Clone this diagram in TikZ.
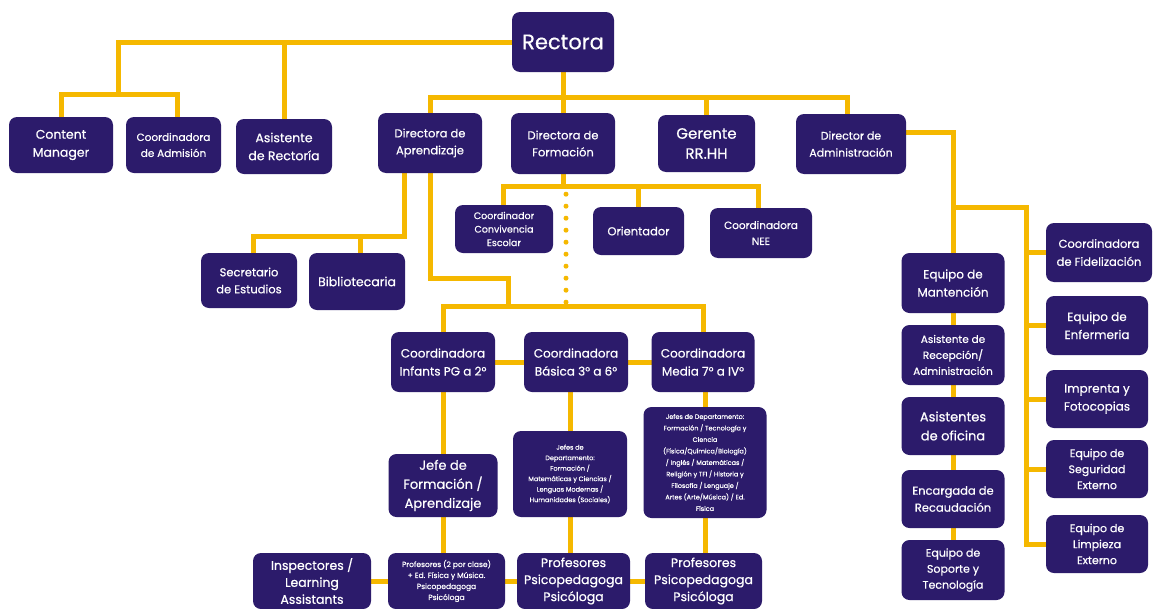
\documentclass[tikz,border=0pt]{standalone}
\usepackage{fontspec}
\setmainfont{Poppins}[FakeBold=0.5]
\usetikzlibrary{backgrounds}
\definecolor{boxc}{RGB}{44,27,107}
\definecolor{linec}{RGB}{245,184,0}
\newcommand{\fsz}[2]{\fontsize{#1}{#2}\selectfont}
\begin{document}
\begin{tikzpicture}[x=1pt,y=-1pt,
  box/.style={fill=boxc, rounded corners=8pt, text=white, align=center, inner sep=1pt},
  link/.style={draw=linec, line width=5pt},
  dotlink/.style={draw=linec, line width=5pt, line cap=round, dash pattern=on 0pt off 12pt}]
\clip (0,0) rectangle (1154,608);
% top level
\node[box, minimum width=102pt, minimum height=60pt, font=\fsz{21}{25}] (rect) at (563,42) {Rectora};
\node[box, minimum width=104pt, minimum height=56pt, font=\fsz{12.5}{18}] (cm) at (61,145) {Content\\Manager};
\node[box, minimum width=95pt, minimum height=56pt, font=\fsz{10.5}{16}] (adm) at (173.5,145) {Coordinadora\\de Admisión};
\node[box, minimum width=96pt, minimum height=55pt, font=\fsz{12.5}{18}] (asr) at (284,146.5) {Asistente\\de Rectoría};
\node[box, minimum width=104pt, minimum height=60pt, font=\fsz{11.5}{17}] (dap) at (430,143) {Directora de\\Aprendizaje};
\node[box, minimum width=104pt, minimum height=61pt, font=\fsz{11.5}{17}] (dfo) at (563,143.5) {Directora de\\Formación};
\node[box, minimum width=97pt, minimum height=57pt, font=\fsz{15}{20}] (ger) at (706.5,143.5) {Gerente\\RR.HH};
\node[box, minimum width=110pt, minimum height=60pt, font=\fsz{11}{17}] (dad) at (851,144) {Director de\\Administración};
% formacion children
\node[box, minimum width=98pt, minimum height=48pt, font=\fsz{9.5}{13.5}] (conv) at (504,229) {Coordinador\\Convivencia\\Escolar};
\node[box, minimum width=91pt, minimum height=48pt, font=\fsz{11.5}{16}] (ori) at (638.5,231) {Orientador};
\node[box, minimum width=102pt, minimum height=50pt, font=\fsz{10.5}{16}] (nee) at (761,233) {Coordinadora\\NEE};
% aprendizaje children
\node[box, minimum width=96pt, minimum height=55pt, font=\fsz{11.5}{17}] (secr) at (249,280.5) {Secretario\\de Estudios};
\node[box, minimum width=96pt, minimum height=57pt, font=\fsz{12.5}{17}] (bib) at (357,281.5) {Bibliotecaria};
% coordinadoras
\node[box, minimum width=104pt, minimum height=60pt, font=\fsz{12}{18}] (inf) at (443,362) {Coordinadora\\Infants PG a 2°};
\node[box, minimum width=104pt, minimum height=60pt, font=\fsz{12}{18}] (bas) at (576,362) {Coordinadora\\Básica 3° a 6°};
\node[box, minimum width=103pt, minimum height=60pt, font=\fsz{12}{18}] (med) at (703,362) {Coordinadora\\Media 7° a IV°};
% jefes
\node[box, minimum width=109pt, minimum height=63pt, font=\fsz{13}{19}] (jef) at (443,485.5) {Jefe de\\Formación /\\Aprendizaje};
\node[box, minimum width=114pt, minimum height=86pt, font=\fsz{6.5}{10.5}] (jb) at (570,474) {Jefes de\\Departamento:\\Formación /\\Matemáticas y Ciencias /\\Lenguas Modernas /\\Humanidades (Sociales)};
\node[box, minimum width=123pt, minimum height=111pt, font=\fsz{6.5}{11.5}] (jm) at (705,462.5) {Jefes de Departamento:\\Formación / Tecnología y\\Ciencia\\(Física/Química/Biología)\\/ Inglés / Matemáticas /\\Religión y TFI / Historia y\\Filosofía / Lenguaje /\\Artes (Arte/Música) / Ed.\\Física};
% bottom row
\node[box, minimum width=118pt, minimum height=56pt, font=\fsz{12.5}{17}] (insp) at (312,581) {Inspectores /\\Learning\\Assistants};
\node[box, minimum width=117pt, minimum height=56pt, font=\fsz{7.5}{11}] (pro2) at (446.5,581) {Profesores (2 por clase)\\+ Ed. Física y Música.\\Psicopedagoga\\Psicóloga};
\node[box, minimum width=113pt, minimum height=56pt, font=\fsz{12.5}{17}] (p1) at (573.5,581) {Profesores\\Psicopedagoga\\Psicóloga};
\node[box, minimum width=117pt, minimum height=56pt, font=\fsz{12.5}{17}] (p2) at (703.5,581) {Profesores\\Psicopedagoga\\Psicóloga};
% administracion left column
\node[box, minimum width=103pt, minimum height=60pt, font=\fsz{12}{18}] (mant) at (953,283) {Equipo de\\Mantención};
\node[box, minimum width=103pt, minimum height=60pt, font=\fsz{10.5}{16}] (rec) at (953,355) {Asistente de\\Recepción/\\Administración};
\node[box, minimum width=103pt, minimum height=58pt, font=\fsz{13}{19}] (ofi) at (953,426) {Asistentes\\de oficina};
\node[box, minimum width=103pt, minimum height=58pt, font=\fsz{11.5}{17}] (rca) at (953,499) {Encargada de\\Recaudación};
\node[box, minimum width=103pt, minimum height=60pt, font=\fsz{11}{16}] (sop) at (953,570) {Equipo de\\Soporte y\\Tecnología};
% administracion right column
\node[box, minimum width=106pt, minimum height=59pt, font=\fsz{11.5}{18}] (fid) at (1099,252.5) {Coordinadora\\de Fidelización};
\node[box, minimum width=102pt, minimum height=59pt, font=\fsz{12}{18}] (enf) at (1097,325.5) {Equipo de\\Enfermeria};
\node[box, minimum width=102pt, minimum height=58pt, font=\fsz{12}{18}] (imp) at (1097,399) {Imprenta y\\Fotocopias};
\node[box, minimum width=102pt, minimum height=58pt, font=\fsz{11}{16}] (seg) at (1097,469) {Equipo de\\Seguridad\\Externo};
\node[box, minimum width=102pt, minimum height=58pt, font=\fsz{11}{16}] (lim) at (1097,544) {Equipo de\\Limpieza\\Externo};
% connectors
\coordinate (jA) at (118,94);
\coordinate (jB) at (563,97);
\coordinate (jR) at (1026,207);
\coordinate (jF) at (563,186);
\coordinate (jS) at (404,236);
\coordinate (jT) at (508,278);
\coordinate (jM) at (508,306);
\begin{pgfonlayer}{background}
\fill[white] (0,0) rectangle (1154,608);
\draw[link] (rect.west) -| (jA);
\draw[link] (cm.north) |- (jA) -| ([xshift=4pt]adm.north);
\draw[link] (asr.north) |- (rect.west);
\draw[link] (rect.south) -- (dfo.north);
\draw[link] (dap.north) |- (jB) -| ([xshift=-4pt]dad.north);
\draw[link] (ger.north) -- (ger.north |- jB);
\draw[link] ([yshift=12pt]dad.east) -| (mant.north);
\draw[link] (mant.north |- jR) -- (jR) |- (lim.west);
\foreach \n in {fid,enf,imp,seg} \draw[link] (\n.west) -- (\n.west -| jR);
\draw[link] (mant.center) -- (sop.center);
\draw[link] (dfo.south) -- (jF);
\draw[link] ([xshift=-1pt]conv.north) |- (jF) -| ([xshift=-3pt]nee.north);
\draw[link] (ori.north) -- (ori.north |- jF);
\draw[dotlink] ([xshift=3pt,yshift=-20pt]dfo.south) -- ([xshift=3pt]dfo.south |- jM);
\draw[link] (dap.south -| jS) -- (jS) -| ([xshift=4pt]secr.north);
\draw[link] ([xshift=3pt]bib.north) -- ([xshift=3pt]bib.north |- jS);
\draw[link] (dap.south) |- (jT) -- (jM);
\draw[link] (inf.north) |- (jM) -| (med.north);
\draw[link] (inf.center) -- (med.center);
\draw[link] (inf.south) -- (jef.north);
\draw[link] (jb.north) -- (jb.north |- bas.south);
\draw[link] (jm.north) -- (jm.north |- med.south);
\draw[link] (jef.south) -- (jef.south |- pro2.north);
\draw[link] (jb.south) -- (jb.south |- p1.north);
\draw[link] (jm.south) -- (jm.south |- p2.north);
\draw[link] (insp.center) -- (p2.center);
\end{pgfonlayer}
\end{tikzpicture}
\end{document}
